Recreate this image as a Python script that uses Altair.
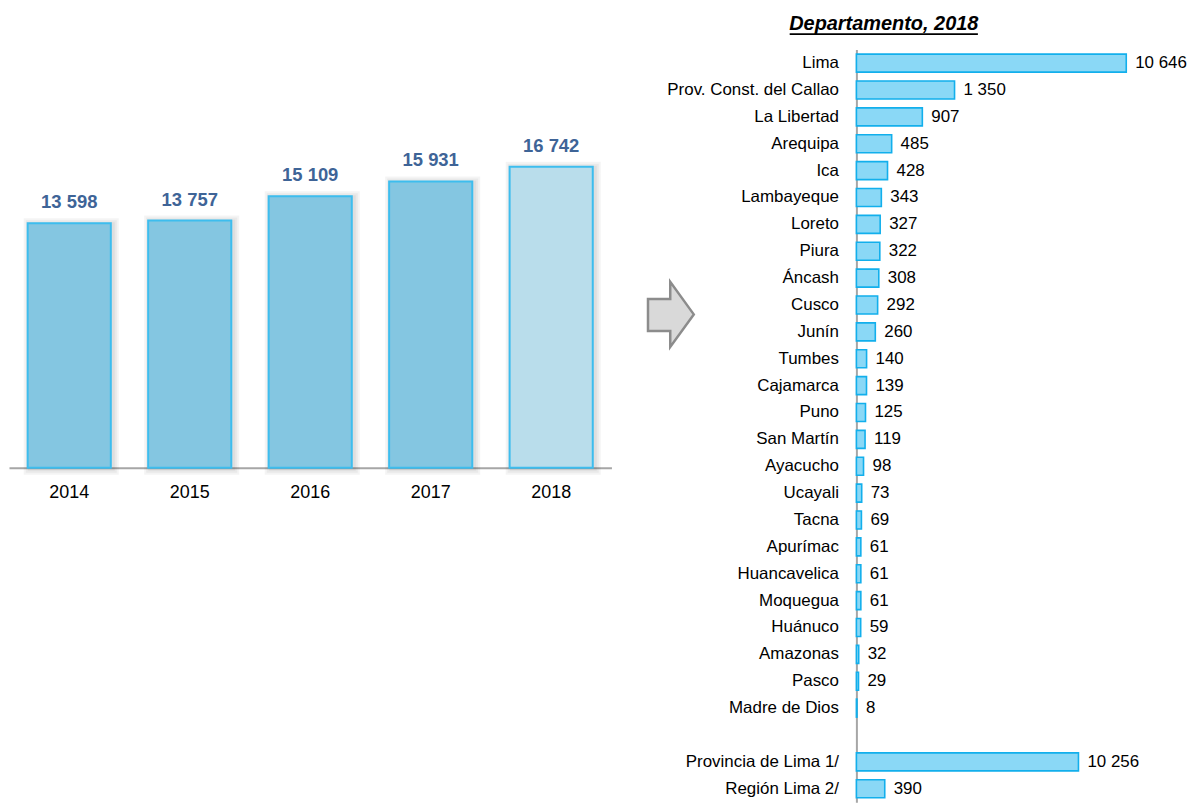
import altair as alt
import pandas as pd

# ---------------- data ----------------
years = ["2014", "2015", "2016", "2017", "2018"]
totals = [13598, 13757, 15109, 15931, 16742]

departments = ["Lima", "Prov. Const. del Callao", "La Libertad", "Arequipa", "Ica",
               "Lambayeque", "Loreto", "Piura", "Áncash", "Cusco", "Junín", "Tumbes",
               "Cajamarca", "Puno", "San Martín", "Ayacucho", "Ucayali", "Tacna",
               "Apurímac", "Huancavelica", "Moquegua", "Huánuco", "Amazonas", "Pasco",
               "Madre de Dios"]
dept_values = [10646, 1350, 907, 485, 428, 343, 327, 322, 308, 292, 260, 140, 139, 125,
               119, 98, 73, 69, 61, 61, 61, 59, 32, 29, 8]

lima_parts = ["Provincia de Lima 1/", "Región Lima 2/"]
lima_values = [10256, 390]

right_title = "Departamento, 2018"


def fmt(v):
    return f"{v:,}".replace(",", " ")


SANS = "Liberation Sans, Arial"

left_df = pd.DataFrame({"year": years, "total": totals,
                        "label": [fmt(v) for v in totals]})

rows = departments + [" "] + lima_parts
right_df = pd.DataFrame({
    "name": departments + lima_parts,
    "value": dept_values + lima_values,
    "group": ["dept"] * len(departments) + ["lima"] * len(lima_parts),
    "label": [fmt(v) for v in dept_values + lima_values],
})

# ---------------- left chart ----------------
W_L, H_L = 605, 420
x_left = alt.X("year:N", sort=years,
               scale=alt.Scale(paddingInner=0.31, paddingOuter=0.155),
               axis=alt.Axis(title=None, labelAngle=0, ticks=False, tickSize=0,
                             labelPadding=16, labelFont=SANS, labelFontSize=18,
                             labelColor="#000000", domainColor="#a6a6a6", domainWidth=2))
y_left = alt.Y("total:Q", scale=alt.Scale(domain=[0, 23269]), axis=None)

lbase = alt.Chart(left_df)
shadows = [
    lbase.mark_bar(fillOpacity=0, stroke="#000000", strokeOpacity=0.045,
                   strokeWidth=w, xOffset=2, yOffset=1).encode(x=x_left, y=y_left)
    for w in (4, 8, 12)
]
lbars = lbase.mark_bar(stroke="#3dbdee", strokeWidth=2).encode(
    x=x_left, y=y_left,
    color=alt.condition(alt.datum.year == "2018", alt.value("#b9ddeb"), alt.value("#84c6e1")),
)
ltext = lbase.mark_text(dy=-15, baseline="alphabetic", font=SANS, fontWeight="bold",
                        fontSize=18.5, color="#3e6497").encode(x=x_left, y=y_left, text="label:N")
left = alt.layer(*shadows, lbars, ltext).properties(width=W_L, height=H_L)

# ---------------- right chart ----------------
W_R, H_R = 271, 756
y_right = alt.Y("name:N", sort=rows,
                scale=alt.Scale(domain=rows, paddingInner=0.33, paddingOuter=0.17),
                axis=alt.Axis(title=None, ticks=False, tickSize=0, labelPadding=18,
                              labelFont=SANS, labelFontSize=17, labelColor="#000000",
                              domainColor="#a6a6a6", domainWidth=2, labelLimit=400))

rbase = alt.Chart(right_df)
top_x = alt.X("value:Q", scale=alt.Scale(domain=[0, 3712], clamp=True), axis=None)
bot_x = alt.X("value:Q", scale=alt.Scale(domain=[0, 3055], range=[0, 223], clamp=True), axis=None)

bar_style = dict(fill="#8ad8f6", stroke="#12afec", strokeWidth=1.6)
txt_style = dict(align="left", baseline="middle", dx=9, font=SANS, fontSize=17, color="#000000")

top = alt.layer(
    rbase.transform_filter(alt.datum.group == "dept").mark_bar(**bar_style).encode(x=top_x, y=y_right),
    rbase.transform_filter(alt.datum.group == "dept").mark_text(**txt_style).encode(
        x=top_x, y=y_right, text="label:N"),
)
bottom = alt.layer(
    rbase.transform_filter(alt.datum.group == "lima").mark_bar(**bar_style).encode(x=bot_x, y=y_right),
    rbase.transform_filter(alt.datum.group == "lima").mark_text(**txt_style).encode(
        x=bot_x, y=y_right, text="label:N"),
)

one = pd.DataFrame({"t": [right_title]})
ARROW = "M -0.703 -0.47 L -0.02 -0.47 L -0.02 -1 L 0.703 0 L -0.02 1 L -0.02 0.51 L -0.703 0.51 Z"
arrow = alt.Chart(one).mark_point(shape=ARROW, size=4277, filled=True, fill="#d9d9d9",
                                   stroke="#8c8c8c", strokeWidth=2.5, opacity=1).encode(
    x=alt.value(-186.3), y=alt.value(266))
title = alt.Chart(one).mark_text(font=SANS, fontSize=20, fontWeight="bold", fontStyle="italic",
                                 align="center", baseline="alphabetic", color="#000000").encode(
    x=alt.value(27.5), y=alt.value(-20), text="t:N")
underline = alt.Chart(one).mark_rule(color="#000000", strokeWidth=1.8).encode(
    x=alt.value(-67), x2=alt.value(122), y=alt.value(-15.5))

right = alt.layer(top, bottom, arrow, title, underline).resolve_scale(x="independent").properties(
    width=W_R, height=H_R)

chart = alt.hconcat(left, right, spacing=31).properties(
    padding={"top": 4, "left": 1, "right": 0, "bottom": 0}
).configure_view(stroke=None)

chart.save("out.html", embed_options={"renderer": "svg", "actions": False})
